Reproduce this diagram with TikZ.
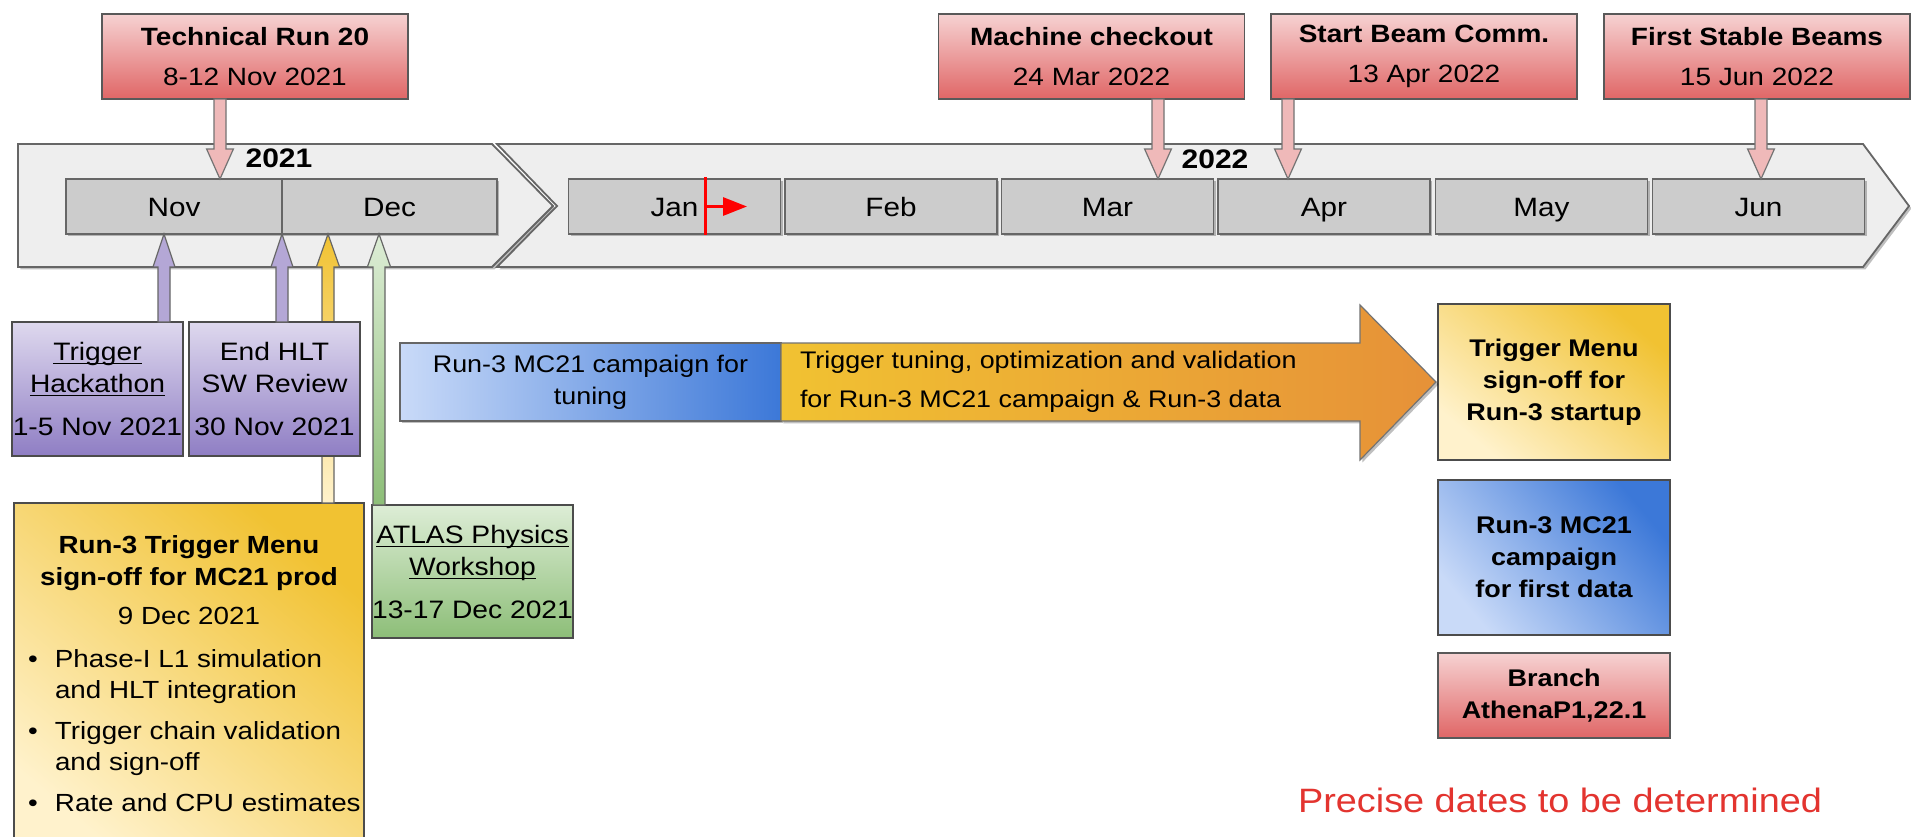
\documentclass[tikz,border=0pt]{standalone}
\usepackage{fontspec}
\setmainfont{Liberation Sans}[FakeStretch=1.12]
\usetikzlibrary{calc,shadows,arrows.meta}

\definecolor{redA}{HTML}{F6D2D2}
\definecolor{redB}{HTML}{E06666}
\definecolor{pinkfill}{HTML}{EFB9B9}
\definecolor{bandfill}{HTML}{EEEEEE}
\definecolor{monthfill}{HTML}{CCCCCC}
\definecolor{edge}{HTML}{666666}
\definecolor{purA}{HTML}{DED8EE}
\definecolor{purB}{HTML}{8F7EC4}
\definecolor{purarrow}{HTML}{B4A7D6}
\definecolor{yelA}{HTML}{FFF2CC}
\definecolor{yelB}{HTML}{F1C232}
\definecolor{grnA}{HTML}{DDEDD6}
\definecolor{grnB}{HTML}{8DBE78}
\definecolor{bluA}{HTML}{C9DAF8}
\definecolor{bluB}{HTML}{3C78D8}
\definecolor{orgA}{HTML}{F1C232}
\definecolor{orgB}{HTML}{E69138}
\definecolor{notered}{HTML}{E3342F}

\newcommand{\ulword}[1]{\leavevmode\setbox0\hbox{#1}\rlap{\rule[-1.9pt]{\wd0}{0.6pt}}\box0}
% vertical block arrow: style, from, to (tip), head base offset, head half width
\newcommand{\vblock}[5]{%
  \path[#1] let \p1=#2, \p2=#3 in
    (\x1-3pt,\y1) -- (\x1-3pt,\y2#4) -- (\x1-#5,\y2#4) -- (\x1,\y2)
    -- (\x1+#5,\y2#4) -- (\x1+3pt,\y2#4) -- (\x1+3pt,\y1) -- cycle;}

\tikzset{
  every node/.style={inner sep=0pt, outer sep=0pt},
  softshadow/.style={drop shadow={shadow xshift=1.2pt, shadow yshift=-1.2pt, opacity=0.25, fill=black}},
  redbox/.style={draw=black!65, line width=0.7pt, top color=redA, bottom color=redB,
    minimum width=153pt, minimum height=42.5pt, align=center,
    font=\fontsize{12.5pt}{20pt}\selectfont},
  monthbox/.style={draw=edge, line width=0.8pt, fill=monthfill, minimum height=27.5pt,
    minimum width=106pt, text height=9.5pt, text depth=0pt,
    font=\fontsize{13.26pt}{16pt}\selectfont, softshadow},
  band/.style={draw=edge, line width=0.9pt, fill=bandfill, softshadow},
  yearlbl/.style={font=\fontsize{13.4pt}{16pt}\selectfont\bfseries},
  pinkarrow/.style={draw=black!55, line width=0.6pt, fill=pinkfill},
  purarrowst/.style={draw=black!60, line width=0.6pt, fill=purarrow},
  yelarrowst/.style={draw=black!60, line width=0.6pt, top color=yelB, bottom color=yelA},
  grnarrowst/.style={draw=black!60, line width=0.6pt, top color=grnA, bottom color=grnB},
  purbox/.style={draw=black!70, line width=0.7pt, top color=purA, bottom color=purB,
    minimum width=85.5pt, minimum height=67pt, align=center,
    font=\fontsize{12.6pt}{16pt}\selectfont},
  grnbox/.style={draw=black!70, line width=0.7pt, top color=grnA, bottom color=grnB,
    minimum width=100.5pt, minimum height=66.5pt, align=center,
    font=\fontsize{12.6pt}{16pt}\selectfont},
  yelbox/.style={draw=black!70, line width=0.7pt, top color=yelB, bottom color=yelA, shading angle=-40},
  bluebox/.style={draw=black!60, line width=0.7pt, top color=bluB, bottom color=bluA, shading angle=-50},
  rightbox/.style={minimum width=116pt, align=center, font=\fontsize{12.05pt}{16pt}\selectfont\bfseries},
  bodytxt/.style={font=\fontsize{12.4pt}{16pt}\selectfont},
  orangearr/.style={draw=black!55, line width=0.6pt, left color=orgA, right color=orgB, softshadow},
}

\begin{document}
\begin{tikzpicture}[x=0.5pt, y=-0.5pt]
\useasboundingbox (0,0) rectangle (1911,836);
\fill[white] (0,0) rectangle (1911,836);

% timeline bands
\path[band] (18,144) -- (492,144) -- (553,206) -- (492,267) -- (18,267) -- cycle;
\path[band] (497,144) -- (1863,144) -- (1909,206) -- (1863,267) -- (497,267) -- (557,206) -- cycle;

% months
\node[monthbox, minimum width=108pt]   (nov) at (174,206.5)  {Nov};
\node[monthbox, minimum width=107.5pt] (dec) at (389.5,206.5) {Dec};
\node[monthbox] (jan) at (674.5,206.5)  {Jan};
\node[monthbox] (feb) at (891,206.5)    {Feb};
\node[monthbox] (mar) at (1107.5,206.5) {Mar};
\node[monthbox] (apr) at (1324,206.5)   {Apr};
\node[monthbox] (may) at (1541.5,206.5) {May};
\node[monthbox] (jun) at (1758.5,206.5) {Jun};

\node[yearlbl] (y21) at (279,158) {2021};
\node[yearlbl] (y22) at (1215,159) {2022};

% red marker in January
\coordinate (jm) at (705,0);
\coordinate (jmEnd) at (747,206.5);
\draw[red, line width=1.5pt] ($(jan.north -| jm)+(0,-2)$) -- ($(jan.south -| jm)+(0,1)$);
\draw[red, line width=1.5pt, -{Triangle[length=12pt,width=9pt]}] (jan.center -| jm) -- (jmEnd);

% top milestone boxes
\node[redbox] (tr) at (255,56.5)  {{\bfseries Technical Run 20}\\8-12 Nov 2021};
\node[redbox] (mc) at (1091.5,56.5) {{\bfseries Machine checkout}\\24 Mar 2022};
\node[redbox] (sb) at (1424,56.5) {{\bfseries Start Beam Comm.}\\13 Apr 2022};
\node[redbox] (fs) at (1757,56.5) {{\bfseries First Stable Beams}\\15 Jun 2022};

% down arrows
\coordinate (ax1) at (220,0);
\coordinate (ax2) at (1158,0);
\coordinate (ax3) at (1288,0);
\coordinate (ax4) at (1761,0);
\vblock{pinkarrow}{(tr.south -| ax1)}{(nov.north -| ax1)}{+15pt}{6.7pt}
\vblock{pinkarrow}{(mc.south -| ax2)}{(mar.north -| ax2)}{+15pt}{6.7pt}
\vblock{pinkarrow}{(sb.south -| ax3)}{(apr.north -| ax3)}{+15pt}{6.7pt}
\vblock{pinkarrow}{(fs.south -| ax4)}{(jun.north -| ax4)}{+15pt}{6.7pt}

% lower boxes (nodes first so arrows can refer to them)
\node[yelbox, minimum width=175pt, minimum height=180pt] (ym) at (189,683) {};
\node[grnbox] (gw) at (472.5,571.5) {\ulword{ATLAS Physics}\\\ulword{Workshop}\\[5.5pt]13-17 Dec 2021};

% up arrows behind the purple boxes
\coordinate (ux1) at (164,0);
\coordinate (ux2) at (282,0);
\coordinate (ux3) at (328,0);
\coordinate (ux4) at (379,0);
\vblock{yelarrowst}{(ym.north -| ux3)}{(dec.south -| ux3)}{-16.5pt}{5.8pt}
\vblock{grnarrowst}{(gw.north -| ux4)}{(dec.south -| ux4)}{-16.5pt}{5.8pt}

\node[purbox] (hk) at (97.5,389) {\ulword{Trigger}\\\ulword{Hackathon}\\[5.5pt]1-5 Nov 2021};
\node[purbox] (eh) at (274.5,389) {End HLT\\SW Review\\[5.5pt]30 Nov 2021};
\vblock{purarrowst}{(hk.north -| ux1)}{(nov.south -| ux1)}{-16.5pt}{5.5pt}
\vblock{purarrowst}{(eh.north -| ux2)}{(nov.south -| ux2)}{-16.5pt}{5.5pt}

% yellow box text
\node[bodytxt, align=center] (ymtitle) at (189,580)
  {{\bfseries Run-3 Trigger Menu}\\{\bfseries sign-off for MC21 prod}\\[3.5pt]9 Dec 2021};
\node[anchor=west, align=left, font=\fontsize{12.4pt}{15.5pt}\selectfont] (ymlist) at (28,731)
  {\makebox[13.5pt][l]{•}Phase-I L1 simulation\\
   \hspace*{13.5pt}and HLT integration\\[5pt]
   \makebox[13.5pt][l]{•}Trigger chain validation\\
   \hspace*{13.5pt}and sign-off\\[5pt]
   \makebox[13.5pt][l]{•}Rate and CPU estimates};

% right-hand boxes
\node[rightbox, yelbox, minimum height=78pt] (tm) at (1554,382) {Trigger Menu\\sign-off for\\Run-3 startup};
\node[rightbox, bluebox, draw=black!70, minimum height=77.5pt] (fd) at (1554,557.5) {Run-3 MC21\\campaign\\for first data};
\node[rightbox, draw=black!65, line width=0.7pt, top color=redA, bottom color=redB, minimum height=42.5pt] (br) at (1554,695.5) {Branch\\AthenaP1,22.1};

% campaign arrow
\node[bluebox, left color=bluA, right color=bluB, minimum width=190.5pt, minimum height=39pt,
      align=center, font=\fontsize{12pt}{16pt}\selectfont, softshadow] (bc) at (590.5,382)
  {Run-3 MC21 campaign for\\tuning};
\path[orangearr] let \p1=(bc.north east), \p2=(bc.south east), \p3=(tm.west) in
  (\x1,\y1) -- (\x3-39pt,\y1) -- (\x3-39pt,\y1+19pt) -- (\x3-1pt,\y3)
  -- (\x3-39pt,\y2-19.5pt) -- (\x3-39pt,\y2) -- (\x2,\y2) -- cycle;
\node[anchor=west, align=left, font=\fontsize{12pt}{19.5pt}\selectfont] (ot) at (800,381.5)
  {Trigger tuning, optimization and validation\\for Run-3 MC21 campaign \& Run-3 data};

% note
\node[text=notered, font=\fontsize{16.9pt}{20pt}\selectfont] (note) at (1560,800) {Precise dates to be determined};
\end{tikzpicture}
\end{document}
